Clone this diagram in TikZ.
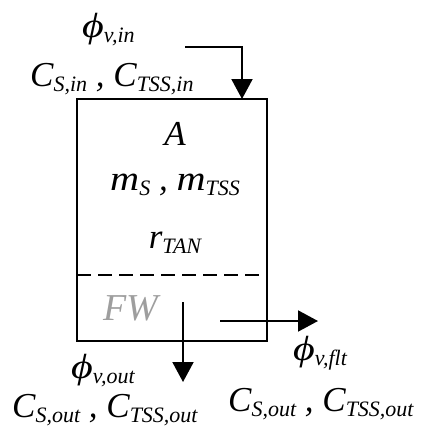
\documentclass[tikz,border=0pt]{standalone}
\usepackage{fontspec}
\setmainfont{Liberation Serif}
\usetikzlibrary{arrows.meta}
\newcommand{\sbs}[1]{\raisebox{-0.15em}{\fontsize{22}{26}\selectfont #1}}
\newcommand{\phig}{\scalebox{1.2}[1]{\fontsize{35}{38}\selectfont ϕ}}
\newcommand{\mg}{\scalebox{1.15}[1]{m}}
\tikzset{
  lbl/.style={font=\itshape\fontsize{35}{40}\selectfont, inner sep=0pt, anchor=base},
  lblw/.style={lbl, anchor=base west},
  flow/.style={line width=2pt, -{Triangle[width=21pt,length=20pt]}},
  wall/.style={line width=2pt},
}
\begin{document}
\begin{tikzpicture}[x=1pt,y=-1pt]
\useasboundingbox (0,0) rectangle (435,437);
% tank
\coordinate (tl) at (77,99);
\coordinate (br) at (267,341);
\draw[wall] (tl) rectangle (br);
\coordinate (dl) at (77,275);
\coordinate (dr) at (267,275);
\draw[line width=2pt, dash pattern=on 14pt off 7pt] (dl) -- (dr);
% flows
\coordinate (inS) at (185,47);
\coordinate (inE) at (242,99);
\draw[flow] (inS) -| (inE);
\coordinate (outS) at (183,302);
\coordinate (outE) at (183,382);
\draw[flow] (outS) -- (outE);
\coordinate (fltS) at (220,321);
\coordinate (fltE) at (318,321);
\draw[flow] (fltS) -- (fltE);
% labels
\node[lblw] (phiin) at (82,37) {\phig\sbs{v,in}};
\node[lblw] (cin) at (30,86) {C\sbs{S,in} , C\sbs{TSS,in}};
\node[lbl] (area) at (175,145) {A};
\node[lbl] (mass) at (175,190) {\mg\sbs{S} , \mg\sbs{TSS}};
\node[lbl] (rate) at (175,248) {r\sbs{TAN}};
\node[lbl, text=black!38, font=\itshape\fontsize{38}{42}\selectfont] (fw) at (131,320) {FW};
\node[lblw] (phiout) at (71,378) {\phig\sbs{v,out}};
\node[lblw] (cout) at (12,417) {C\sbs{S,out} , C\sbs{TSS,out}};
\node[lblw] (phiflt) at (293,360) {\phig\sbs{v,flt}};
\node[lblw] (cflt) at (228,411) {C\sbs{S,out} , C\sbs{TSS,out}};
\end{tikzpicture}
\end{document}
